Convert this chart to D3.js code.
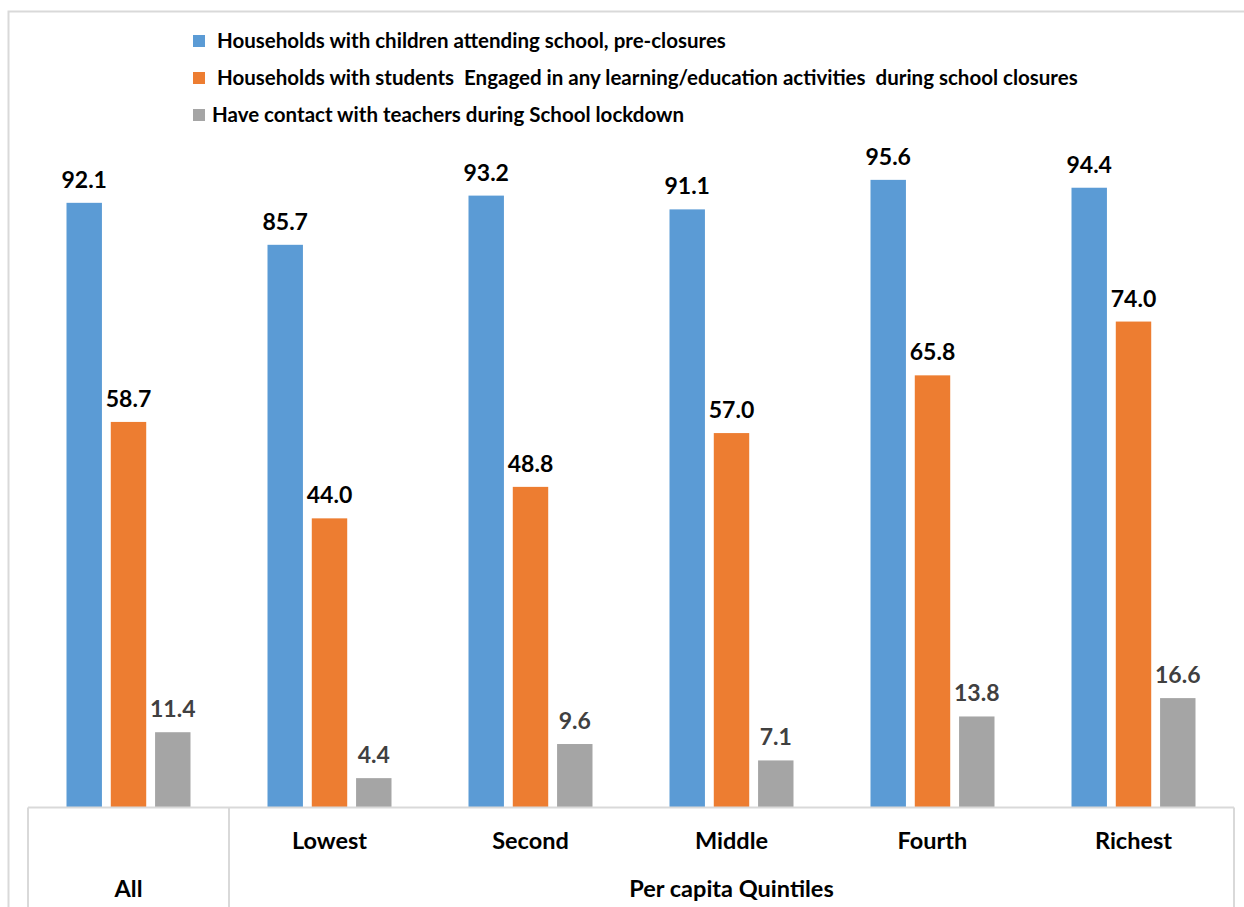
<!DOCTYPE html>
<html>
<head>
<meta charset="utf-8">
<script src="https://cdn.jsdelivr.net/npm/d3@7"></script>
<style>
  body { margin: 0; background: #fff; }
  svg { display: block; font-family: Lato, "Open Sans", sans-serif; font-weight: bold; }
  text { white-space: pre; }
</style>
</head>
<body>
<svg width="1244" height="907"></svg>
<script>
// chart values
const categories = ['All', 'Lowest', 'Second', 'Middle', 'Fourth', 'Richest'];
const seriesNames = [
  'Households with children attending school, pre-closures',
  'Households with students  Engaged in any learning/education activities  during school closures',
  'Have contact with teachers during School lockdown',
];
const preClosure = [92.1, 85.7, 93.2, 91.1, 95.6, 94.4];
const engaged = [58.7, 44.0, 48.8, 57.0, 65.8, 74.0];
const contact = [11.4, 4.4, 9.6, 7.1, 13.8, 16.6];
const groupLabels = ['All', 'Per capita Quintiles'];

const colors = ['#5B9BD5', '#ED7D31', '#A5A5A5'];
const labelColors = ['#000', '#000', '#404040'];
const series = [preClosure, engaged, contact];

const svg = d3.select('svg');

// outer chart frame
svg.append('path')
  .attr('d', 'M8.5,907 V11.5 H1244')
  .attr('fill', 'none')
  .attr('stroke', '#d9d9d9')
  .attr('stroke-width', 2);

const x0 = d3.scaleBand().domain(categories).range([28, 1234]).paddingInner(0);
const x1 = d3.scaleBand().domain(d3.range(3))
  .range([x0.bandwidth() / 2 - 62, x0.bandwidth() / 2 + 62])
  .paddingInner(0.2);
const y = d3.scaleLinear().domain([0, 100]).range([807, 151]);

// bars
const groups = svg.append('g').selectAll('g')
  .data(categories)
  .join('g')
  .attr('transform', d => `translate(${x0(d)},0)`);

groups.selectAll('rect')
  .data((d, i) => series.map((s, k) => ({ k, v: s[i] })))
  .join('rect')
  .attr('x', d => x1(d.k))
  .attr('width', x1.bandwidth())
  .attr('y', d => y(d.v))
  .attr('height', d => y(0) - y(d.v))
  .attr('fill', d => colors[d.k]);

groups.selectAll('text')
  .data((d, i) => series.map((s, k) => ({ k, v: s[i] })))
  .join('text')
  .attr('x', d => x1(d.k) + x1.bandwidth() / 2)
  .attr('y', d => y(d.v) - 15)
  .attr('text-anchor', 'middle')
  .attr('font-size', 23)
  .attr('fill', d => labelColors[d.k])
  .text(d => d.v.toFixed(1));

// category axis box
const axis = svg.append('g').attr('stroke', '#d9d9d9').attr('stroke-width', 2).attr('fill', 'none');
axis.append('line').attr('x1', 28).attr('x2', 1234).attr('y1', 807.5).attr('y2', 807.5);
[x0.range()[0], x0('Lowest'), x0.range()[1]].forEach(xx => {
  axis.append('line').attr('x1', xx).attr('x2', xx).attr('y1', 807.5).attr('y2', 907);
});

svg.append('g').selectAll('text')
  .data(categories.slice(1))
  .join('text')
  .attr('x', d => x0(d) + x0.bandwidth() / 2)
  .attr('y', 849)
  .attr('text-anchor', 'middle')
  .attr('font-size', 23.5)
  .text(d => d);

svg.append('text')
  .attr('x', x0('All') + x0.bandwidth() / 2)
  .attr('y', 897)
  .attr('text-anchor', 'middle')
  .attr('font-size', 23.5)
  .text(groupLabels[0]);

svg.append('text')
  .attr('x', (x0('Lowest') + x0.range()[1]) / 2)
  .attr('y', 897)
  .attr('text-anchor', 'middle')
  .attr('font-size', 23.5)
  .text(groupLabels[1]);

// legend
const legendRows = [
  { y: 41, boxX: 193, textX: 217 },
  { y: 78, boxX: 193, textX: 217 },
  { y: 115, boxX: 193, textX: 212 },
];
const legend = svg.append('g').selectAll('g')
  .data(seriesNames)
  .join('g');
legend.append('rect')
  .attr('x', (d, i) => legendRows[i].boxX)
  .attr('y', (d, i) => legendRows[i].y - 6)
  .attr('width', 12)
  .attr('height', 12)
  .attr('fill', (d, i) => colors[i]);
legend.append('text')
  .attr('x', (d, i) => legendRows[i].textX)
  .attr('y', (d, i) => legendRows[i].y + 7)
  .attr('font-size', 20.5)
  .text(d => d);
</script>
</body>
</html>
